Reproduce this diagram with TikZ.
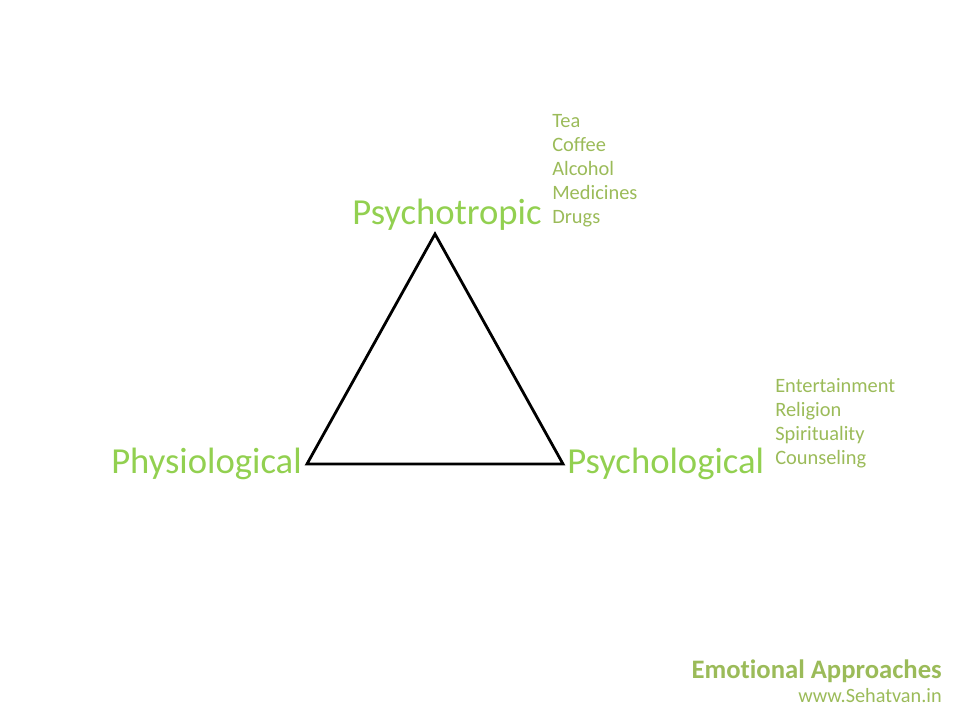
\documentclass[tikz,border=0pt]{standalone}
\usepackage{fontspec}
\setmainfont{Carlito}[Ligatures=NoCommon]
\usetikzlibrary{positioning}
\definecolor{brightgreen}{HTML}{92D050}
\definecolor{olivegreen}{HTML}{9BBB59}
\tikzset{
  bigterm/.style={text=brightgreen, font=\fontsize{27.5}{32}\selectfont, inner sep=0pt},
  listitem/.style={text=olivegreen, font=\fontsize{15.3}{18}\selectfont, inner sep=0pt, anchor=base west}
}

\begin{document}
\begin{tikzpicture}[x=0.75pt, y=-0.75pt]
  \useasboundingbox (0,0) rectangle (960,720);
  % triangle
  \coordinate (top) at (435,234);
  \coordinate (left) at (307,464);
  \coordinate (right) at (563,464);
  \draw[line width=2.1pt, line join=miter] (top) -- (right) -- (left) -- cycle;
  % main terms
  \node[bigterm, anchor=base] (psychotropic) at (447,225) {Psychotropic};
  \node[bigterm, anchor=base east] (physiological) at (302,473) {Physiological};
  \node[bigterm, anchor=base west] (psychological) at (567,473) {Psychological};
  % lists
  \foreach \y/\lbl [count=\i] in {128/Tea, 152/Coffee, 176/Alcohol, 200/Medicines, 224/Drugs} {
    \node[listitem] (drug-\i) at (552,\y) {\lbl};
  }
  \foreach \y/\lbl [count=\i] in {392/Entertainment, 416/Religion, 440/Spirituality, 464/Counseling} {
    \node[listitem] (mind-\i) at (775,\y) {\lbl};
  }
  % footer
  \node[text=olivegreen, font=\bfseries\fontsize{20}{24}\selectfont, inner sep=0pt, anchor=base east] (title) at (942,678) {Emotional Approaches};
  \node[text=olivegreen, font=\fontsize{15.2}{18}\selectfont, inner sep=0pt, anchor=base east] (site) at (942,702) {www.Sehatvan.in};
\end{tikzpicture}
\end{document}
